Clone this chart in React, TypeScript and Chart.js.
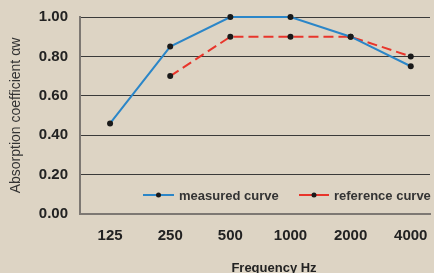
import React, { useEffect, useRef } from "react";
import { Chart, registerables } from "chart.js";

Chart.register(...registerables);

const categories = ["125", "250", "500", "1000", "2000", "4000"];
const measured = [0.46, 0.85, 1.0, 1.0, 0.9, 0.75];
const reference: (number | null)[] = [null, 0.7, 0.9, 0.9, 0.9, 0.8];
const seriesNames = ["measured curve", "reference curve"];
const yTicks = [0, 0.2, 0.4, 0.6, 0.8, 1.0];
const xTitle = "Frequency Hz";
const yTitle = "Absorption coefficient αw";

const BG = "rgb(221,212,196)";
const BLUE = "#2b86c8";
const RED = "#e8352b";
const FONT = "'Liberation Sans', Arial, Helvetica, sans-serif";

const legendPlugin = {
  id: "lineDotLegend",
  afterDatasetsDraw(chart: any) {
    const ctx = chart.ctx;
    const y = 195;
    const items = [
      { x0: 143, x1: 174, tx: 179, color: BLUE, label: seriesNames[0] },
      { x0: 299, x1: 329, tx: 334, color: RED, label: seriesNames[1] },
    ];
    ctx.save();
    for (const it of items) {
      ctx.strokeStyle = it.color;
      ctx.lineWidth = 2;
      ctx.beginPath();
      ctx.moveTo(it.x0, y);
      ctx.lineTo(it.x1, y);
      ctx.stroke();
      ctx.fillStyle = "#1a1a1a";
      ctx.beginPath();
      ctx.arc((it.x0 + it.x1) / 2, y, 2.5, 0, Math.PI * 2);
      ctx.fill();
      ctx.fillStyle = "#333";
      ctx.font = `bold 13px ${FONT}`;
      ctx.textBaseline = "middle";
      ctx.textAlign = "left";
      ctx.fillText(it.label, it.tx, y + 1);
    }
    // x axis title (offset right of the plot centre, as in the reference)
    ctx.fillStyle = "#222";
    ctx.font = `bold 13px ${FONT}`;
    ctx.textAlign = "center";
    ctx.textBaseline = "alphabetic";
    ctx.fillText(xTitle, 274, 271.5);
    ctx.restore();
  },
};

const zeroPad = (s: any) => {
  s.paddingLeft = 0;
  s.paddingRight = 0;
  s.paddingTop = 0;
  s.paddingBottom = 0;
};

export default function App() {
  const ref = useRef<HTMLCanvasElement>(null);
  useEffect(() => {
    if (!ref.current) return;
    const chart = new Chart(ref.current, {
      type: "line",
      data: {
        datasets: [
          {
            label: seriesNames[0],
            data: measured.map((v, i) => ({ x: i, y: v })),
            borderColor: BLUE,
            borderWidth: 2,
            pointBackgroundColor: "#1a1a1a",
            pointBorderColor: "#1a1a1a",
            pointRadius: 3,
            pointBorderWidth: 0,
            tension: 0,
            clip: false as any,
          },
          {
            label: seriesNames[1],
            data: reference
              .map((v, i) => ({ x: i, y: v }))
              .filter((p) => p.y !== null) as any,
            borderColor: RED,
            borderWidth: 2,
            borderDash: [10, 5],
            pointBackgroundColor: "#1a1a1a",
            pointBorderColor: "#1a1a1a",
            pointRadius: 3,
            pointBorderWidth: 0,
            tension: 0,
            clip: false as any,
          },
        ],
      },
      options: {
        responsive: false,
        animation: false,
        layout: { padding: { top: 17, right: 0, bottom: 0, left: 0 } },
        plugins: { legend: { display: false }, tooltip: { enabled: false } },
        scales: {
          x: {
            type: "linear",
            min: -0.5,
            max: 5.32,
            afterFit: (s: any) => {
              s.height = 59;
              zeroPad(s);
            },
            afterBuildTicks: (s: any) => {
              s.ticks = categories.map((_, i) => ({ value: i }));
            },
            ticks: {
              autoSkip: false,
              maxRotation: 0,
              padding: 13,
              color: "#222",
              font: { family: FONT, size: 15, weight: "bold" },
              callback: (v: any) => categories[v] ?? "",
            },
            grid: { display: false, drawTicks: false },
            border: { color: "#7d7873", width: 2 },
            title: { display: false },
          },
          y: {
            min: 0,
            max: 1,
            afterFit: (s: any) => {
              s.width = 80;
              zeroPad(s);
            },
            afterBuildTicks: (s: any) => {
              s.ticks = yTicks.map((v) => ({ value: v }));
            },
            ticks: {
              padding: 12,
              color: "#222",
              font: { family: FONT, size: 15, weight: "bold" },
              callback: (v: any) => Number(v).toFixed(2),
            },
            grid: { color: "#3a3a3a", lineWidth: 1, drawTicks: false },
            border: { color: "#7d7873", width: 2 },
            title: {
              display: true,
              text: yTitle,
              color: "#333",
              font: { family: FONT, size: 14 },
              padding: { top: 8, bottom: 0 },
            },
          },
        },
      },
      plugins: [legendPlugin],
    });
    return () => chart.destroy();
  }, []);
  return (
    <div
      style={{
        position: "fixed",
        left: 0,
        top: 0,
        width: 434,
        height: 273,
        background: BG,
        overflow: "hidden",
      }}
    >
      <canvas ref={ref} width={434} height={273} style={{ display: "block" }} />
    </div>
  );
}
